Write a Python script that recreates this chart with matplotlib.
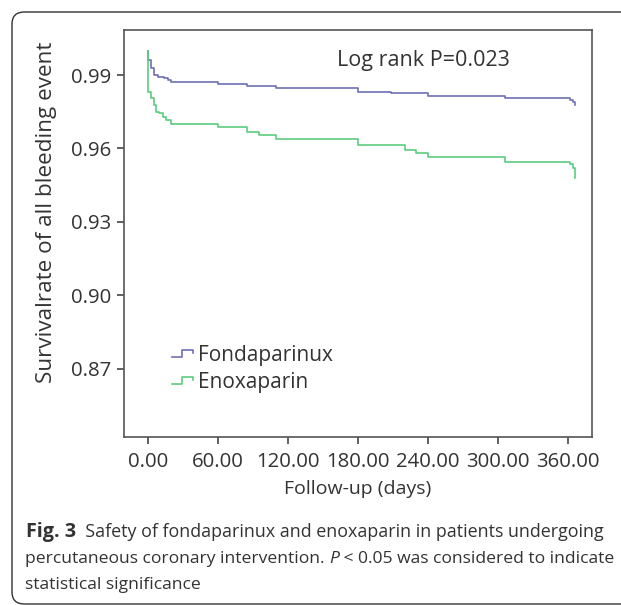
import matplotlib
matplotlib.use("Agg")
import matplotlib.pyplot as plt
from matplotlib.lines import Line2D
from matplotlib.legend_handler import HandlerLine2D
from matplotlib.patches import FancyBboxPatch

plt.rcParams['font.family'] = ['Open Sans', 'DejaVu Sans']

# ---- data ----
fonda_days = [0, 0.5, 3, 5, 9, 14, 17, 20, 60, 85, 110, 180, 208, 240, 306, 362, 364, 366]
fonda_surv = [1.0, 0.9961, 0.9929, 0.990, 0.9893, 0.9887, 0.988, 0.9871, 0.9863, 0.9855,
              0.9846, 0.9832, 0.9825, 0.9814, 0.9805, 0.9798, 0.9788, 0.9778]
enox_days = [0, 0.5, 3, 5, 7, 10, 13, 16, 20, 60, 85, 95, 110, 180, 220, 230, 240, 306, 362, 364, 366]
enox_surv = [1.0, 0.9832, 0.9806, 0.9778, 0.975, 0.9745, 0.973, 0.9716, 0.970, 0.9687, 0.9669,
             0.9655, 0.9639, 0.9612, 0.9594, 0.958, 0.9564, 0.9546, 0.9537, 0.952, 0.9478]
group_names = ["Fondaparinux", "Enoxaparin"]
x_ticks = [0, 60, 120, 180, 240, 300, 360]
y_ticks = [0.87, 0.90, 0.93, 0.96, 0.99]

W, H = 621, 605
fig = plt.figure(figsize=(W / 100, H / 100), dpi=100)
fig.patch.set_facecolor('white')

def fx(px):
    return px / W

def fy(py):
    return 1 - py / H

ax = fig.add_axes([fx(124), fy(437), fx(592) - fx(124), fy(30) - fy(437)])

blue = '#6c70b4'
green = '#5ccc80'
ax.step(fonda_days, fonda_surv, where='post', color=blue, lw=1.2, label=group_names[0])
ax.step(enox_days, enox_surv, where='post', color=green, lw=1.2, label=group_names[1])

ax.set_xlim(-20.3, 380.6)
ax.set_ylim(0.842, 1.0084)
ax.set_xticks(x_ticks)
ax.set_xticklabels([f"{v:.2f}" for v in x_ticks])
ax.set_yticks(y_ticks)
ax.set_yticklabels([f"{v:.2f}" for v in y_ticks])

tick_col = '#333333'
for s in ax.spines.values():
    s.set_color('#555555')
    s.set_linewidth(1.2)
ax.tick_params(direction='out', length=5, width=1.2, color='#444444',
               labelsize=14.7, labelcolor=tick_col, pad=4)
ax.tick_params(axis='x', pad=5.5)

ax.set_xlabel("Follow-up (days)", fontsize=14, color=tick_col, labelpad=6)
ax.set_ylabel("Survivalrate of all bleeding event", fontsize=16.2, color=tick_col)
ax.yaxis.set_label_coords((57 - 124) / 468, (437 - 212) / 407)

ax.text(0.455, 0.925, "Log rank P=0.023", transform=ax.transAxes, fontsize=15.5,
        color=tick_col, ha='left', va='center')


class StepHandler(HandlerLine2D):
    def create_artists(self, legend, orig_handle, xdescent, ydescent, width, height,
                       fontsize, trans):
        x0 = -xdescent
        y0 = -ydescent
        lo = y0 + height * 0.25
        hi = y0 + height * 0.75
        xs = [x0, x0 + 0.5 * width, x0 + 0.5 * width, x0 + width, x0 + width]
        ys = [lo, lo, hi, hi, hi - height * 0.2]
        ln = Line2D(xs, ys, color=orig_handle.get_color(), lw=1.2)
        ln.set_transform(trans)
        return [ln]


handles, labels = ax.get_legend_handles_labels()
leg = ax.legend(handles, labels, loc='upper left',
                bbox_to_anchor=((172 - 124) / (592 - 124), (437 - 345) / (437 - 30)),
                frameon=False, fontsize=15, handlelength=1.0, handletextpad=0.24,
                borderpad=0, borderaxespad=0, labelspacing=0.27,
                handler_map={Line2D: StepHandler()})
for t in leg.get_texts():
    t.set_color(tick_col)

# outer rounded border (open to the right)
box = FancyBboxPatch((fx(12), fy(604)), fx(700) - fx(12), fy(12) - fy(604),
                     boxstyle="round,pad=0,rounding_size=0.02",
                     transform=fig.transFigure, fill=False, edgecolor='#333333',
                     linewidth=1.0, clip_on=False)
fig.patches.append(box)

# caption
cap_col = '#333333'
cap_fs = 12.6
renderer = fig.canvas.get_renderer()


def put_seq(pieces, x_px, y_px):
    x = fx(x_px)
    for txt, kw in pieces:
        opts = dict(fontsize=cap_fs, color=cap_col, va='center', ha='left')
        opts.update(kw)
        t = fig.text(x, fy(y_px), txt, **opts)
        bb = t.get_window_extent(renderer=renderer)
        x = fx(bb.x1)


put_seq([("Fig. 3", dict(fontweight='bold', fontsize=14.2)),
         ("  Safety of fondaparinux and enoxaparin in patients undergoing", dict(fontsize=12.9))],
        26, 532)
put_seq([("percutaneous coronary intervention. ", {}),
         ("P", dict(style='italic')),
         (" < 0.05 was considered to indicate", {})], 25, 559)
put_seq([("statistical significance", {})], 25, 585)

fig.savefig("out.png", dpi=100)
